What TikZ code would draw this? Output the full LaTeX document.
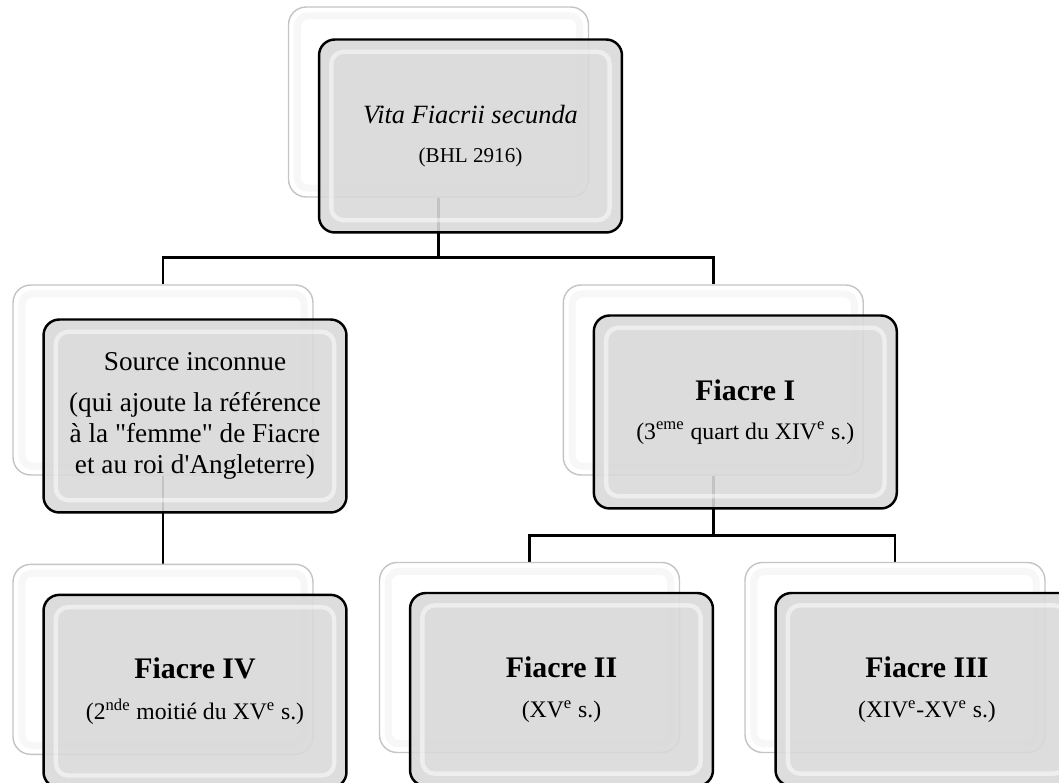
\documentclass[tikz,border=0pt]{standalone}
\usepackage{fontspec}
\setmainfont{Liberation Serif}[Ligatures=TeXOff]
\usetikzlibrary{positioning,backgrounds}
\definecolor{pane}{HTML}{D9D9D9}
\definecolor{rim}{HTML}{C4C4C4}
\definecolor{ink}{HTML}{000000}

\begin{document}
\begin{tikzpicture}[x=0.02cm,y=-0.02cm,
back/.style={draw=rim,line width=0.8pt,rounded corners=10pt,fill=white,minimum width=6cm,minimum height=3.8cm,path picture={\draw[gray!6,line width=4pt,rounded corners=6pt] ([shift={(5pt,-5pt)}]path picture bounding box.north west) rectangle ([shift={(-5pt,5pt)}]path picture bounding box.south east);}},
card/.style={draw=ink,line width=1.4pt,rounded corners=9pt,fill=pane,fill opacity=0.9,text opacity=1,minimum width=6.06cm,minimum height=3.86cm,align=center,font=\fontsize{13.5}{16}\selectfont,path picture={\draw[white,opacity=0.5,line width=2.5pt,rounded corners=7pt] ([shift={(7pt,-7pt)}]path picture bounding box.north west) rectangle ([shift={(-7pt,7pt)}]path picture bounding box.south east);}},
link/.style={draw=ink,line width=1.5pt}]
\useasboundingbox (0,0) rectangle (1059,783);
\clip (0,0) rectangle (1059,783);
\node[back] (vitab) at (438.5,102) {};
\node[back] (sourceb) at (163,380) {};
\node[back,right=4.98cm of sourceb] (fiacreIb) {};
\node[back,below=1.76cm of sourceb] (fiacreIVb) {};
\node[back] (fiacreIIb) at (529.5,657.5) {};
\node[back] (fiacreIIIb) at (895,657.5) {};
\node[card] (vita) at ([shift={(32,34)}]vitab) {{\fontsize{15}{18}\selectfont\itshape Vita Fiacrii secunda}\\[6pt]{\fontsize{12}{14}\selectfont (BHL 2916)}};
\node[card,font=\fontsize{15.5}{17.5}\selectfont] (source) at ([shift={(32,36)}]sourceb) {Source inconnue\\[6pt](qui ajoute la référence\\à la "femme" de Fiacre\\et au roi d'Angleterre)};
\node[card] (fiacreI) at ([shift={(32,32)}]fiacreIb) {{\fontsize{17}{20}\selectfont\bfseries Fiacre I}\\[6pt](3\textsuperscript{eme} quart du XIV\textsuperscript{e} s.)};
\node[card] (fiacreIV) at ([shift={(32,32)}]fiacreIVb) {{\fontsize{17}{20}\selectfont\bfseries Fiacre IV}\\[7pt](2\textsuperscript{nde} moitié du XV\textsuperscript{e} s.)};
\node[card] (fiacreII) at ([shift={(32,32)}]fiacreIIb) {{\fontsize{17}{20}\selectfont\bfseries Fiacre II}\\[7pt](XV\textsuperscript{e} s.)};
\node[card] (fiacreIII) at ([shift={(32,32)}]fiacreIIIb) {{\fontsize{17}{20}\selectfont\bfseries Fiacre III}\\[7pt](XIV\textsuperscript{e}-XV\textsuperscript{e} s.)};
\begin{scope}[on background layer]
\draw[link] (vitab.south) -- ++(0,60) -| (sourceb.north);
\draw[link] (vitab.south) -- ++(0,60) -| (fiacreIb.north);
\draw[link] (sourceb.south) -- (fiacreIVb.north);
\draw[link] (fiacreIb.south) -- ++(0,60) -| (fiacreIIb.north);
\draw[link] (fiacreIb.south) -- ++(0,60) -| (fiacreIIIb.north);
\end{scope}
\end{tikzpicture}
\end{document}
